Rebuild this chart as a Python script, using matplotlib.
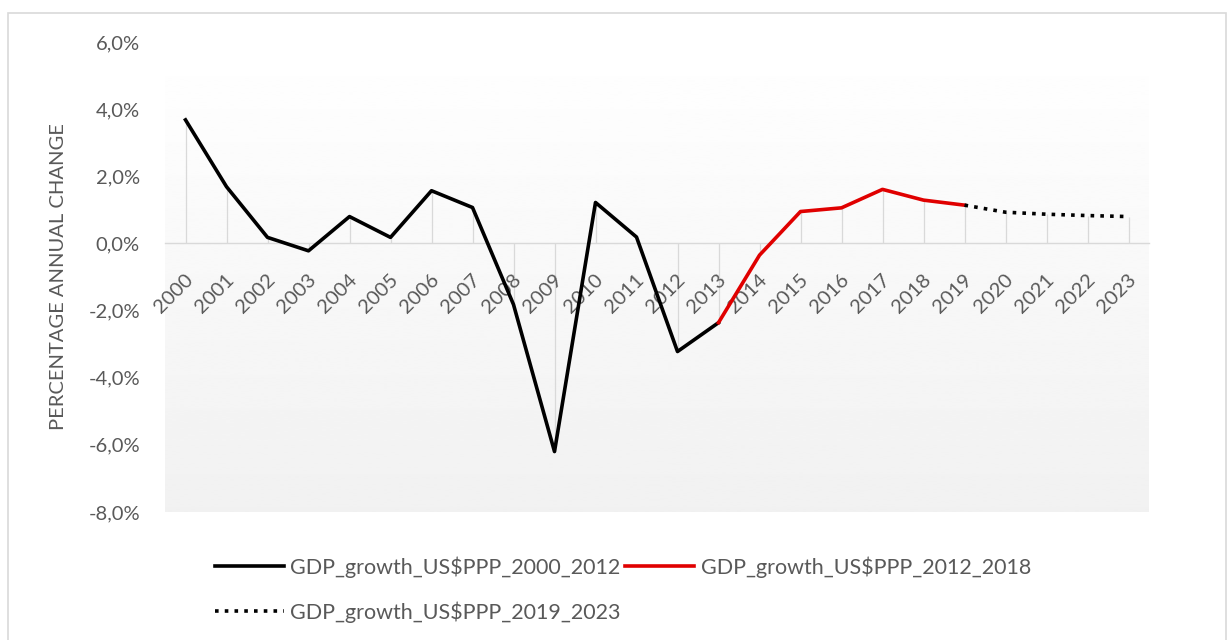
import numpy as np
import matplotlib
matplotlib.use("Agg")
import matplotlib.pyplot as plt
from matplotlib.lines import Line2D
from matplotlib.patches import Rectangle
from matplotlib.ticker import FuncFormatter
from matplotlib.transforms import ScaledTranslation

plt.rcParams["font.family"] = ["Lato", "DejaVu Sans"]

# data (percent annual change)
years = list(range(2000, 2024))
growth_2000_2012 = [3.68, 1.69, 0.18, -0.22, 0.80, 0.18, 1.57, 1.07, -1.82,
                    -6.20, 1.22, 0.19, -3.22, -2.36]
growth_2012_2018 = [-2.36, -0.35, 0.95, 1.06, 1.61, 1.29, 1.14]
growth_2019_2023 = [1.14, 0.93, 0.87, 0.83, 0.80]
series_names = ["GDP_growth_US$PPP_2000_2012",
                "GDP_growth_US$PPP_2012_2018",
                "GDP_growth_US$PPP_2019_2023"]
y_ticks = [-8, -6, -4, -2, 0, 2, 4, 6]

TXT = "#595959"
GRID = "#d9d9d9"
RED = "#e00000"
LW = 2.6
DOTS = (0, (1, 1.7))

W, H = 1228, 640
fig = plt.figure(figsize=(W / 100, H / 100), dpi=100)
ax = fig.add_axes([165 / W, 1 - 512 / H, 984 / W, 470 / H])

# chart border (runs off the right/bottom edge in the reference)
fig.patches.append(Rectangle((8 / W, -0.05), (1226 - 8) / W, 1.05 - 13 / H,
                             transform=fig.transFigure, fill=False,
                             edgecolor=GRID, linewidth=1.2))

x_all = np.arange(len(years))
n_a = len(growth_2000_2012)
x_a = x_all[:n_a]
x_b = x_all[n_a - 1:n_a - 1 + len(growth_2012_2018)]
x_c = x_all[-len(growth_2019_2023):]

# plot area gradient: white on top, light grey at the bottom
grad = np.linspace(1.0, 0.945, 256).reshape(-1, 1)
ax.imshow(grad, extent=[0, 1, 0, 1], transform=ax.transAxes, aspect="auto",
          cmap="gray", vmin=0, vmax=1, zorder=0, interpolation="bilinear")

# drop lines from each point to the axis
all_vals = growth_2000_2012 + growth_2012_2018[1:] + growth_2019_2023[1:]
ax.vlines(x_all, 0, all_vals, colors=GRID, linewidth=0.9, zorder=1)

ax.plot(x_a, growth_2000_2012, color="black", lw=LW, zorder=3)
ax.plot(x_b, growth_2012_2018, color=RED, lw=LW, zorder=3)
ax.plot(x_c, growth_2019_2023, color="black", lw=LW, zorder=3, linestyle=DOTS)

ax.set_xlim(-0.5, len(years) - 0.5)
ax.set_ylim(-8, 6)
ax.set_yticks(y_ticks)
ax.yaxis.set_major_formatter(FuncFormatter(lambda v, p: f"{v:.1f}%".replace(".", ",")))
ax.set_xticks(x_all)
ax.set_xticklabels([str(y) for y in years])

for s in ["top", "right", "left"]:
    ax.spines[s].set_visible(False)
ax.spines["bottom"].set_position(("data", 0))
ax.spines["bottom"].set_color(GRID)
ax.spines["bottom"].set_linewidth(1.0)
ax.spines["bottom"].set_zorder(2)

ax.tick_params(axis="y", length=0, pad=18, labelsize=14.5, labelcolor=TXT)
ax.tick_params(axis="x", length=0, pad=24, labelsize=14.5, labelcolor=TXT)
shift = ScaledTranslation(5 / 100, 0, fig.dpi_scale_trans)
for lab in ax.get_xticklabels():
    lab.set_rotation(45)
    lab.set_ha("right")
    lab.set_va("center")
    lab.set_rotation_mode("anchor")
    lab.set_transform(lab.get_transform() + shift)

ax.set_ylabel("PERCENTAGE ANNUAL CHANGE", fontsize=14.5, color=TXT)
ax.yaxis.set_label_coords((67 - 165) / 984, 0.5)

handles = [Line2D([], [], color="black", lw=LW),
           Line2D([], [], color="black", lw=LW, linestyle=DOTS),
           Line2D([], [], color=RED, lw=LW)]
labels = [series_names[0], series_names[2], series_names[1]]
leg = fig.legend(handles, labels, ncol=2, loc="upper left",
                 bbox_to_anchor=(215 / W, 1 - 556 / H), frameon=False,
                 fontsize=15.5, handlelength=3.2, handletextpad=0.3,
                 columnspacing=0.2, labelspacing=1.1, borderpad=0,
                 borderaxespad=0)
for t in leg.get_texts():
    t.set_color(TXT)

fig.savefig("out.png", dpi=100)
